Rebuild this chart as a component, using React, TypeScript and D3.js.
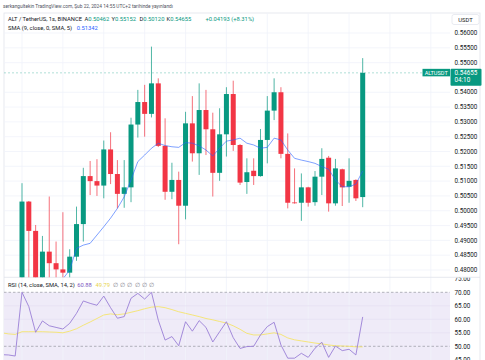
import React from "react";
import * as d3 from "d3";

const W = 485;
const H = 360;
const FONT = "Roboto, 'Noto Sans', sans-serif";

// Candles (index 0 = first visible candle)
const opens = [0.4760, 0.5031, 0.4932, 0.4750, 0.4862, 0.4823, 0.4802, 0.4791, 0.4845, 0.4955, 0.5117, 0.5100, 0.5085, 0.5207, 0.5124, 0.5057, 0.5079, 0.5291, 0.5367, 0.5327, 0.5430, 0.5219, 0.5064, 0.5104, 0.5017, 0.5295, 0.5194, 0.5340, 0.5275, 0.5128, 0.5258, 0.5394, 0.5222, 0.5097, 0.5135, 0.5117, 0.5239, 0.5338, 0.5400, 0.5192, 0.5028, 0.5027, 0.5079, 0.5029, 0.5115, 0.5179, 0.5025, 0.5140, 0.5081, 0.5104, 0.50462];
const highs = [0.5093, 0.5033, 0.4952, 0.4915, 0.5048, 0.4896, 0.4995, 0.4870, 0.5014, 0.5145, 0.5168, 0.5174, 0.5237, 0.5265, 0.5171, 0.5171, 0.5314, 0.5408, 0.5425, 0.5554, 0.5447, 0.5312, 0.5162, 0.5132, 0.5334, 0.5387, 0.5430, 0.5408, 0.5331, 0.5346, 0.5417, 0.5439, 0.5225, 0.5177, 0.5177, 0.5276, 0.5387, 0.5447, 0.5417, 0.5261, 0.5143, 0.5126, 0.5081, 0.5134, 0.5211, 0.5185, 0.5175, 0.5142, 0.5177, 0.5106, 0.55152];
const lows = [0.4740, 0.4772, 0.4735, 0.4740, 0.4760, 0.4765, 0.4768, 0.4772, 0.4831, 0.4896, 0.5053, 0.5050, 0.5042, 0.5090, 0.5008, 0.5010, 0.5029, 0.5247, 0.5250, 0.5315, 0.5215, 0.5037, 0.5039, 0.4887, 0.4971, 0.5166, 0.5121, 0.5188, 0.5048, 0.5101, 0.5183, 0.5202, 0.5087, 0.5057, 0.5087, 0.5115, 0.5160, 0.5306, 0.5177, 0.5008, 0.5024, 0.4966, 0.5014, 0.5017, 0.5053, 0.4997, 0.5017, 0.5016, 0.5027, 0.5033, 0.50120];
const closes = [0.5031, 0.4932, 0.4750, 0.4862, 0.4823, 0.4802, 0.4791, 0.4845, 0.4955, 0.5117, 0.5100, 0.5085, 0.5207, 0.5124, 0.5057, 0.5079, 0.5291, 0.5367, 0.5327, 0.5430, 0.5219, 0.5064, 0.5104, 0.5017, 0.5295, 0.5194, 0.5340, 0.5275, 0.5128, 0.5258, 0.5394, 0.5222, 0.5095, 0.5130, 0.5117, 0.5239, 0.5338, 0.5400, 0.5192, 0.5027, 0.5026, 0.5079, 0.5027, 0.5115, 0.5175, 0.5025, 0.5143, 0.5079, 0.5101, 0.5042, 0.54655];

// SMA(9) line, starting at candle index 6
const smaStart = 6;
const smaValues = [0.4770, 0.4800, 0.4873, 0.4884, 0.4890, 0.4918, 0.4946, 0.4975, 0.5008, 0.5047, 0.5104, 0.5166, 0.5188, 0.5211, 0.5228, 0.5220, 0.5216, 0.5214, 0.5230, 0.5228, 0.5219, 0.5205, 0.5185, 0.5211, 0.5235, 0.5239, 0.5245, 0.5228, 0.5222, 0.5211, 0.5214, 0.5245, 0.5239, 0.5205, 0.5177, 0.5171, 0.5166, 0.5160, 0.5149, 0.5140, 0.5104, 0.5081, 0.5081, 0.5090, 0.51342];

// RSI and its SMA, starting at candle index -3
const rsiStart = -3;
const rsiValues = [46.9, 46.8, 46.4, 70.0, 64.7, 55.2, 59.4, 57.6, 57.0, 56.4, 58.5, 62.2, 66.8, 65.9, 65.2, 68.6, 64.3, 60.4, 61.0, 67.8, 69.6, 67.5, 70.0, 59.7, 52.3, 53.6, 50.2, 59.1, 55.6, 59.5, 57.0, 51.6, 55.4, 59.1, 53.2, 49.2, 49.9, 50.0, 54.2, 57.3, 58.9, 50.5, 45.6, 45.6, 47.4, 45.9, 49.3, 51.5, 45.9, 50.1, 48.4, 48.9, 46.8, 60.88];
const rsiMaValues = [55.0, 54.6, 54.4, 55.4, 55.4, 55.4, 55.4, 55.3, 55.2, 55.0, 55.6, 56.5, 57.8, 59.0, 60.3, 61.6, 62.0, 61.7, 62.0, 62.6, 63.2, 63.9, 64.5, 64.7, 64.3, 63.6, 62.8, 62.2, 61.6, 61.0, 60.3, 59.8, 59.2, 58.6, 57.6, 56.3, 54.8, 54.2, 54.2, 54.6, 55.0, 54.4, 53.1, 52.4, 52.0, 51.6, 51.2, 50.9, 50.5, 50.2, 50.1, 50.0, 49.8, 49.79];

const priceTicks = [0.48, 0.485, 0.49, 0.495, 0.5, 0.505, 0.51, 0.515, 0.52, 0.525, 0.53, 0.535, 0.54, 0.55, 0.555, 0.56];
const rsiTicks = [45, 50, 55, 60, 65, 70, 75];
const gridIndices = [0, 6, 12, 18, 24, 30, 36, 42, 48, 54, 60];
const ohlcLabels = ["A", "Y", "D", "K"];
const changeText = "+0.04193 (+8.31%)";

const UP = "#089981";
const DOWN = "#f23645";

export default function App() {
  const x = d3.scaleLinear().domain([0, 50]).range([22, 362.7]);
  const y = d3.scaleLinear().domain([0.48, 0.56]).range([270, 33]);
  const yr = d3.scaleLinear().domain([50, 70]).range([346.3, 292.3]);

  const left = 4, plotRight = 450, right = 480;
  const mainTop = 13, mainBottom = 277.3;
  const bodyW = 5;

  const smaLine = d3.line<number>().x((_, i) => x(i + smaStart)).y((v) => y(v));
  const rsiLine = d3.line<number>().x((_, i) => x(i + rsiStart)).y((v) => yr(v));

  const last = closes.length - 1;
  const lastY = y(closes[last]);
  const ohlcVals = [opens[last], highs[last], lows[last], closes[last]];
  const ohlcX = [84.5, 111.5, 139.5, 166.5];

  return (
    <svg width={W} height={H} style={{ position: "absolute", left: 0, top: 0, background: "#fff" }} fontFamily={FONT}>
      <defs>
        <clipPath id="mainClip"><rect x={left} y={mainTop} width={plotRight - left} height={mainBottom - mainTop} /></clipPath>
        <clipPath id="rsiClip"><rect x={left} y={mainBottom + 0.5} width={plotRight - left} height={H - mainBottom} /></clipPath>
        <clipPath id="rsiAxisClip"><rect x={plotRight} y={mainBottom + 0.5} width={W - plotRight} height={H - mainBottom} /></clipPath>
      </defs>
      <rect x={0} y={0} width={W} height={H} fill="#fff" />

      {/* watermark line */}
      <text x={3} y={6.5} dy="0.35em" fontSize={4.8} fill="#50535e">serkangultekin TradingView.com, Şub 22, 2024 14:55 UTC+2 tarihinde yayınlandı</text>

      {/* outer frame */}
      <rect x={left} y={mainTop} width={right - left} height={H} fill="none" stroke="#e0e3eb" strokeWidth={0.8} />

      {/* RSI pane background */}
      <g clipPath="url(#rsiClip)">
        <rect x={left} y={yr(70)} width={plotRight - left} height={yr(30) - yr(70)} fill="#efebf8" />
      </g>

      {/* grid */}
      <g stroke="#f0f3fa" strokeWidth={0.8}>
        {gridIndices.map((gi) => (
          <line key={"vg" + gi} x1={x(gi)} x2={x(gi)} y1={mainTop} y2={H} />
        ))}
        {priceTicks.map((p) => (
          <line key={"hg" + p} x1={left} x2={plotRight} y1={y(p)} y2={y(p)} />
        ))}
        {[55, 60, 65].map((r) => (
          <line key={"rg" + r} x1={left} x2={plotRight} y1={yr(r)} y2={yr(r)} stroke="#e6e1f2" />
        ))}
      </g>

      {/* pane separator */}
      <line x1={left} x2={right} y1={mainBottom} y2={mainBottom} stroke="#e0e3eb" strokeWidth={0.8} />

      {/* candles */}
      <g clipPath="url(#mainClip)">
        {closes.map((c, i) => {
          const o = opens[i];
          const col = c >= o ? UP : DOWN;
          const top = y(Math.max(o, c));
          const bot = y(Math.min(o, c));
          return (
            <g key={"c" + i}>
              <line x1={x(i)} x2={x(i)} y1={y(highs[i])} y2={y(lows[i])} stroke={col} strokeWidth={1} opacity={0.7} />
              <rect x={x(i) - bodyW / 2} y={top} width={bodyW} height={Math.max(0.8, bot - top)} fill={col} />
            </g>
          );
        })}
        <path d={smaLine(smaValues) || ""} fill="none" stroke="#2962ff" strokeWidth={0.8} opacity={0.75} />
        <line x1={left} x2={422.5} y1={lastY} y2={lastY} stroke={UP} strokeWidth={0.7} strokeDasharray="2,2" opacity={0.45} />
      </g>

      {/* price axis labels */}
      <g fontSize={6.3} fill="#131722">
        {priceTicks.map((p) => (
          <text key={"pt" + p} x={454.5} y={y(p)} dy="0.35em">{p.toFixed(5)}</text>
        ))}
      </g>

      {/* USDT box */}
      <rect x={452} y={14.5} width={27} height={10} rx={2} fill="#fff" stroke="#e0e3eb" strokeWidth={0.7} />
      <text x={465.5} y={19.5} dy="0.35em" fontSize={5.8} textAnchor="middle" fill="#131722">USDT</text>

      {/* current price labels */}
      <rect x={422.5} y={lastY - 4} width={27.5} height={7.5} fill={UP} />
      <text x={436.2} y={lastY} dy="0.35em" fontSize={5.6} textAnchor="middle" fill="#fff">ALTUSDT</text>
      <rect x={450.5} y={lastY - 4} width={31} height={17} rx={1} fill={UP} />
      <text x={454.5} y={lastY} dy="0.35em" fontSize={6.3} fill="#fff">{closes[last].toFixed(5)}</text>
      <text x={454.5} y={lastY + 7.3} dy="0.35em" fontSize={6.3} fill="#fff">04:10</text>

      {/* RSI pane */}
      <g clipPath="url(#rsiClip)">
        <line x1={left} x2={plotRight} y1={yr(70)} y2={yr(70)} stroke="#9598a1" strokeWidth={0.7} strokeDasharray="2.5,2" />
        <line x1={left} x2={plotRight} y1={yr(50)} y2={yr(50)} stroke="#9598a1" strokeWidth={0.7} strokeDasharray="2.5,2" />
        <path d={rsiLine(rsiMaValues) || ""} fill="none" stroke="#f5e46c" strokeWidth={0.9} />
        <path d={rsiLine(rsiValues) || ""} fill="none" stroke="#9a7fd6" strokeWidth={0.9} />
      </g>
      <g fontSize={6.3} fill="#131722" clipPath="url(#rsiAxisClip)">
        {rsiTicks.map((r) => (
          <text key={"rt" + r} x={454.5} y={yr(r)} dy="0.35em">{r.toFixed(2)}</text>
        ))}
      </g>

      {/* legends */}
      <g fontSize={5.8} fill="#131722">
        <text x={8} y={19.3} dy="0.35em">ALT / TetherUS, 1s, BINANCE</text>
        {ohlcLabels.map((lab, i) => (
          <text key={"ol" + lab} x={ohlcX[i]} y={19.3} dy="0.35em">
            {lab}<tspan fill={UP}>{ohlcVals[i].toFixed(5)}</tspan>
          </text>
        ))}
        <text x={205.5} y={19.3} dy="0.35em" fill={UP}>{changeText}</text>
        <text x={8} y={27.6} dy="0.35em">SMA (9, close, 0, SMA, 5)</text>
        <text x={76.7} y={27.6} dy="0.35em" fill="#2962ff">{smaValues[smaValues.length - 1].toFixed(5)}</text>
        <text x={8} y={285} dy="0.35em">RSI (14, close, SMA, 14, 2)</text>
        <text x={77.3} y={285} dy="0.35em" fill="#7e57c2">{rsiValues[rsiValues.length - 1].toFixed(2)}</text>
        <text x={95.5} y={285} dy="0.35em" fill="#e8d44d">{rsiMaValues[rsiMaValues.length - 1].toFixed(2)}</text>
        {[0, 1, 2, 3, 4, 5].map((k) => (
          <text key={"nz" + k} x={113 + k * 7.2} y={285} dy="0.35em" fill="#787b86">∅</text>
        ))}
      </g>
    </svg>
  );
}
